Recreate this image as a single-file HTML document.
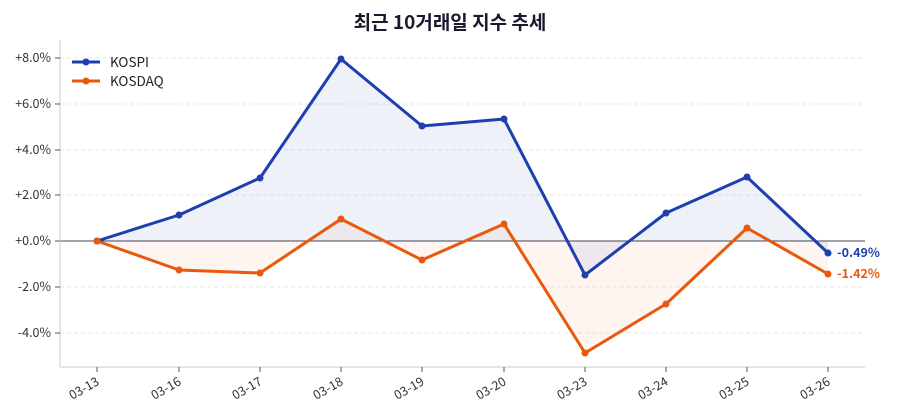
<!DOCTYPE html>
<html><head><meta charset="utf-8"><style>
body{margin:0;background:#fff;}
svg{display:block;font-family:"Noto Sans CJK KR","Liberation Sans",sans-serif;}
</style></head><body>
<svg width="900" height="420" viewBox="0 0 900 420">
<text x="450" y="29" text-anchor="middle" font-size="19" font-weight="bold" fill="#1a1a2e">최근 10거래일 지수 추세</text>
<g stroke="#e6e6ea" stroke-dasharray="4,3" stroke-width="1">
<line x1="60" y1="58" x2="865" y2="58"/><line x1="60" y1="104" x2="865" y2="104"/>
<line x1="60" y1="150" x2="865" y2="150"/><line x1="60" y1="195" x2="865" y2="195"/>
<line x1="60" y1="287" x2="865" y2="287"/><line x1="60" y1="333" x2="865" y2="333"/>
</g>
<polygon points="97,241 179,215 260,178 341,59 422,126 504,119 585,275 666,213 747,177 828,253 828,241" fill="#1e3fae" fill-opacity="0.07"/>
<polygon points="97,241 179,270 260,273 341,219 422,260 504,224 585,353 666,304 747,228 828,274 828,241" fill="#e8590c" fill-opacity="0.06"/>
<line x1="60" y1="241" x2="865" y2="241" stroke="#444455" stroke-width="1"/>
<line x1="60" y1="40" x2="60" y2="367" stroke="#d0d3dc" stroke-width="1.2"/>
<line x1="60" y1="367" x2="865" y2="367" stroke="#d0d3dc" stroke-width="1.2"/>
<g font-size="12.5" fill="#333" text-anchor="end">
<text x="51" y="62">+8.0%</text><text x="51" y="108">+6.0%</text><text x="51" y="154">+4.0%</text>
<text x="51" y="199">+2.0%</text><text x="51" y="245">+0.0%</text><text x="51" y="291">-2.0%</text><text x="51" y="337">-4.0%</text>
</g>
<g stroke="#555" stroke-width="1">
<line x1="55" y1="58" x2="60" y2="58"/><line x1="55" y1="104" x2="60" y2="104"/><line x1="55" y1="150" x2="60" y2="150"/>
<line x1="55" y1="195" x2="60" y2="195"/><line x1="55" y1="241" x2="60" y2="241"/><line x1="55" y1="287" x2="60" y2="287"/><line x1="55" y1="333" x2="60" y2="333"/>
<line x1="97" y1="367" x2="97" y2="372"/><line x1="179" y1="367" x2="179" y2="372"/><line x1="260" y1="367" x2="260" y2="372"/>
<line x1="341" y1="367" x2="341" y2="372"/><line x1="422" y1="367" x2="422" y2="372"/><line x1="504" y1="367" x2="504" y2="372"/>
<line x1="585" y1="367" x2="585" y2="372"/><line x1="666" y1="367" x2="666" y2="372"/><line x1="747" y1="367" x2="747" y2="372"/><line x1="828" y1="367" x2="828" y2="372"/>
</g>
<g font-size="12.5" fill="#333" text-anchor="end">
<text transform="translate(100,384) rotate(-30)">03-13</text>
<text transform="translate(182,384) rotate(-30)">03-16</text>
<text transform="translate(263,384) rotate(-30)">03-17</text>
<text transform="translate(344,384) rotate(-30)">03-18</text>
<text transform="translate(425,384) rotate(-30)">03-19</text>
<text transform="translate(507,384) rotate(-30)">03-20</text>
<text transform="translate(588,384) rotate(-30)">03-23</text>
<text transform="translate(669,384) rotate(-30)">03-24</text>
<text transform="translate(750,384) rotate(-30)">03-25</text>
<text transform="translate(831,384) rotate(-30)">03-26</text>
</g>
<polyline points="97,241 179,215 260,178 341,59 422,126 504,119 585,275 666,213 747,177 828,253" fill="none" stroke="#1e3fae" stroke-width="3" stroke-linejoin="round"/>
<polyline points="97,241 179,270 260,273 341,219 422,260 504,224 585,353 666,304 747,228 828,274" fill="none" stroke="#e8590c" stroke-width="3" stroke-linejoin="round"/>
<g fill="#1e3fae">
<circle cx="97" cy="241" r="3.5"/><circle cx="179" cy="215" r="3.5"/><circle cx="260" cy="178" r="3.5"/><circle cx="341" cy="59" r="3.5"/><circle cx="422" cy="126" r="3.5"/>
<circle cx="504" cy="119" r="3.5"/><circle cx="585" cy="275" r="3.5"/><circle cx="666" cy="213" r="3.5"/><circle cx="747" cy="177" r="3.5"/><circle cx="828" cy="253" r="3.5"/>
</g>
<g fill="#e8590c">
<circle cx="97" cy="241" r="3.5"/><circle cx="179" cy="270" r="3.5"/><circle cx="260" cy="273" r="3.5"/><circle cx="341" cy="219" r="3.5"/><circle cx="422" cy="260" r="3.5"/>
<circle cx="504" cy="224" r="3.5"/><circle cx="585" cy="353" r="3.5"/><circle cx="666" cy="304" r="3.5"/><circle cx="747" cy="228" r="3.5"/><circle cx="828" cy="274" r="3.5"/>
</g>
<text x="837" y="257" font-size="12.5" font-weight="bold" fill="#1e3fae">-0.49%</text>
<text x="837" y="278" font-size="12.5" font-weight="bold" fill="#e8590c">-1.42%</text>
<line x1="72" y1="62" x2="100" y2="62" stroke="#1e3fae" stroke-width="3"/><circle cx="86" cy="62" r="3.5" fill="#1e3fae"/>
<text x="110" y="67" font-size="13.5" fill="#222">KOSPI</text>
<line x1="72" y1="81" x2="100" y2="81" stroke="#e8590c" stroke-width="3"/><circle cx="86" cy="81" r="3.5" fill="#e8590c"/>
<text x="110" y="86" font-size="13.5" fill="#222">KOSDAQ</text>
</svg>
</body></html>
